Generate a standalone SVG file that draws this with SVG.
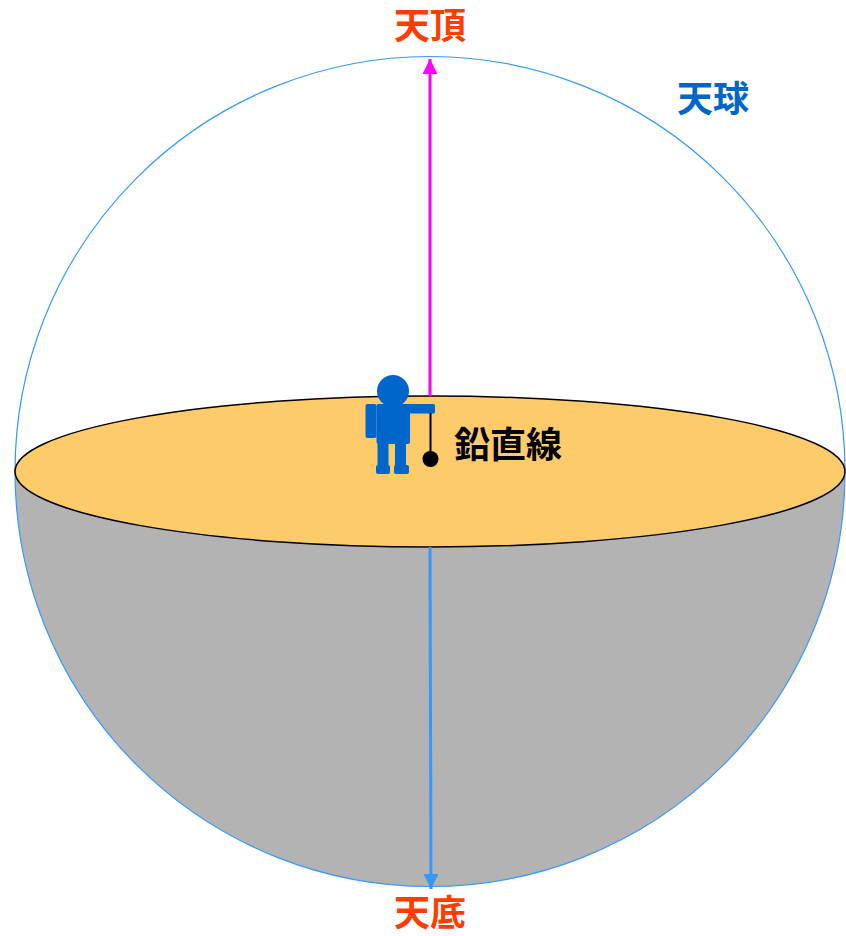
<svg xmlns="http://www.w3.org/2000/svg" width="846" height="936" viewBox="0 0 846 936">
  <style>
    .lbl { font-family: "Liberation Sans", "Noto Sans CJK JP", sans-serif; font-weight: bold; font-size: 36px; }
    .red { fill: #ff3d00; }
    .blue { fill: #0066cc; }
    .fig { fill: #0066cc; }
  </style>
  <defs>
    <marker id="headMagenta" viewBox="0 0 10 10" refX="10" refY="5" markerWidth="5" markerHeight="5" orient="auto" markerUnits="strokeWidth">
      <path d="M0,0 L10,5 L0,10 Z" fill="#ff00ff"/>
    </marker>
    <marker id="headBlue" viewBox="0 0 10 10" refX="10" refY="5" markerWidth="5" markerHeight="5" orient="auto" markerUnits="strokeWidth">
      <path d="M0,0 L10,5 L0,10 Z" fill="#3399ff"/>
    </marker>
  </defs>

  <g id="celestial-sphere">
    <rect width="846" height="936" fill="#ffffff"/>
    <!-- lower hemisphere below the horizon plane -->
    <path d="M15,471.5 A415,415 0 0 0 845,471.5 A415,75.5 0 0 1 15,471.5 Z" fill="#b3b3b3"/>
    <circle cx="430" cy="471.5" r="415" fill="none" stroke="#3399ff" stroke-width="1.2"/>
  </g>

  <g id="horizon-plane">
    <ellipse cx="430" cy="471.5" rx="415" ry="75.5" fill="#fecb6a" stroke="#000000" stroke-width="1.5"/>
  </g>

  <g id="connectors">
    <line x1="430" y1="396" x2="430" y2="59" stroke="#ff00ff" stroke-width="3" marker-end="url(#headMagenta)"/>
    <line x1="430" y1="547" x2="431" y2="889" stroke="#3399ff" stroke-width="3" marker-end="url(#headBlue)"/>
  </g>

  <g id="observer">
    <circle class="fig" cx="393" cy="391" r="16"/>
    <rect class="fig" x="376.5" y="404" width="33.5" height="40" rx="2"/>
    <rect class="fig" x="365.5" y="404" width="11" height="34" rx="2"/>
    <rect class="fig" x="408" y="404" width="27" height="9.5" rx="1.5"/>
    <rect class="fig" x="377.5" y="440" width="11" height="32"/>
    <rect class="fig" x="395" y="440" width="11" height="32"/>
    <rect class="fig" x="376" y="465" width="14" height="9" rx="2"/>
    <rect class="fig" x="394" y="465" width="15" height="9" rx="2"/>
  </g>

  <g id="plumb-line">
    <line x1="430.5" y1="413" x2="430.5" y2="455" stroke="#000000" stroke-width="2"/>
    <circle cx="430.5" cy="459" r="8" fill="#000000"/>
  </g>

  <g id="labels">
    <text class="lbl" x="454" y="458">鉛直線</text>
    <text class="lbl red" x="394" y="39">天頂</text>
    <text class="lbl red" x="394" y="926">天底</text>
    <text class="lbl blue" x="677" y="112">天球</text>
  </g>
</svg>
